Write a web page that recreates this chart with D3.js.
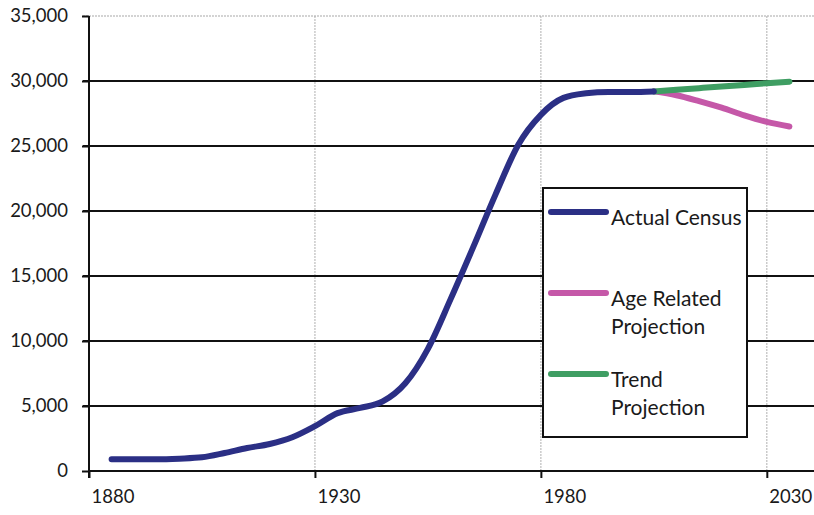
<!DOCTYPE html>
<html><head><meta charset="utf-8">
<script src="https://cdn.jsdelivr.net/npm/d3@7"></script>
<style>
html,body{margin:0;padding:0;background:#fff;}
svg{display:block;}
text{font-family:Lato,"Open Sans",sans-serif;fill:#1a1a1a;}
</style></head><body>
<svg id="chart" width="814" height="515"></svg>
<script>
// Data
const censusYears  = [1885,1890,1895,1900,1905,1910,1915,1920,1925,1930,1935,1940,1945,1950,1955,1960,1965,1970,1975,1980,1985,1990,1995,2000,2005];
const censusValues = [900,900,900,950,1050,1380,1770,2080,2600,3450,4450,4850,5350,6750,9400,13200,17200,21300,25100,27400,28700,29050,29150,29150,29200];
const projYears    = [2005,2010,2015,2020,2025,2030,2035];
const ageValues    = [29200,28900,28450,27950,27350,26850,26500];
const trendValues  = [29200,29320,29450,29580,29700,29830,29950];
const xTicks = [1880,1930,1980,2030];
const yTicks = [0,5000,10000,15000,20000,25000,30000,35000];
const seriesNames = ["Actual Census","Age Related|Projection","Trend|Projection"];
const colors = ["#2b2f85","#c558a8","#3f9e63"];

const svg = d3.select("#chart");
const x = d3.scaleLinear().domain([1880,2040]).range([89,812]);
const y = d3.scaleLinear().domain([0,35000]).range([471,16]);

// vertical grid (dotted grey)
svg.append("g").selectAll("line").data(xTicks.slice(1)).join("line")
  .attr("x1",d=>x(d)).attr("x2",d=>x(d)).attr("y1",y(35000)).attr("y2",y(0))
  .attr("stroke","#bdbdbd").attr("stroke-width",1.2).attr("stroke-dasharray","2,1");

// horizontal grid
svg.append("g").selectAll("line").data(yTicks.filter(d=>d>0)).join("line")
  .attr("x1",83).attr("x2",814).attr("y1",d=>y(d)).attr("y2",d=>y(d))
  .attr("stroke",d=>d===35000?"#a8a8a8":"#111").attr("stroke-width",d=>d===35000?1.2:2)
  .attr("stroke-dasharray",d=>d===35000?"2,1":null);

// axes
const yAxis = d3.axisLeft(y).tickValues(yTicks).tickSize(7).tickPadding(14).tickFormat(d3.format(","));
const gy = svg.append("g").attr("transform","translate(89,0)").call(yAxis);
gy.select(".domain").remove();
gy.selectAll(".tick line").attr("stroke","#111").attr("stroke-width",2);
gy.selectAll(".tick text").attr("font-size",18.5).attr("font-family","Lato,'Open Sans',sans-serif").attr("fill","#1a1a1a");
svg.append("line").attr("x1",89).attr("x2",89).attr("y1",y(35000)).attr("y2",y(0)+7).attr("stroke","#111").attr("stroke-width",2);

const xAxis = d3.axisBottom(x).tickValues(xTicks).tickSize(7).tickPadding(0).tickFormat(d3.format("d"));
const gx = svg.append("g").attr("transform",`translate(0,${y(0)})`).call(xAxis);
gx.select(".domain").remove();
gx.selectAll(".tick line").attr("stroke","#111").attr("stroke-width",2);
gx.selectAll(".tick text").attr("font-size",18.5).attr("font-family","Lato,'Open Sans',sans-serif").attr("fill","#1a1a1a")
  .attr("text-anchor","start").attr("x",2).attr("y",32).attr("dy",null);
svg.append("line").attr("x1",89).attr("x2",814).attr("y1",y(0)).attr("y2",y(0)).attr("stroke","#111").attr("stroke-width",2);

// lines
const line = d3.line().x(d=>x(d[0])).y(d=>y(d[1])).curve(d3.curveMonotoneX);
const series = [
  d3.zip(censusYears,censusValues),
  d3.zip(projYears,ageValues),
  d3.zip(projYears,trendValues)
];
[1,2,0].forEach(i=>{
  svg.append("path").attr("d",line(series[i])).attr("fill","none")
    .attr("stroke",colors[i]).attr("stroke-width",6).attr("stroke-linecap","round").attr("stroke-linejoin","round");
});

// legend
const lg = svg.append("g");
lg.append("rect").attr("x",543).attr("y",188).attr("width",204).attr("height",249)
  .attr("fill","#fff").attr("stroke","#111").attr("stroke-width",2);
const ly = [212,293,374];
seriesNames.forEach((n,i)=>{
  lg.append("line").attr("x1",551).attr("x2",606).attr("y1",ly[i]).attr("y2",ly[i])
    .attr("stroke",colors[i]).attr("stroke-width",6).attr("stroke-linecap","round");
  n.split("|").forEach((t,j)=>{
    lg.append("text").attr("x",611).attr("y",ly[i]+13+j*28).attr("font-size",21).text(t);
  });
});
</script></body></html>
